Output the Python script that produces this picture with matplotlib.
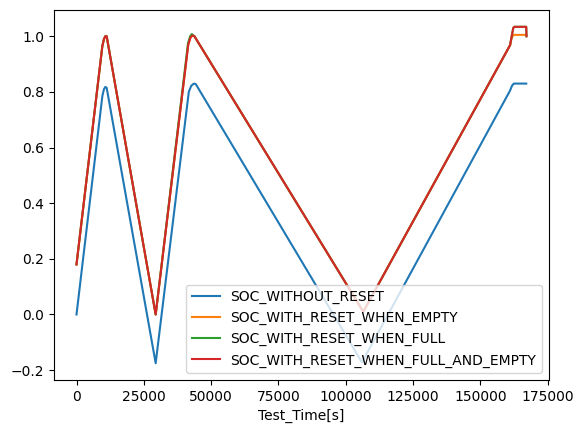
import matplotlib
matplotlib.use("Agg")
import matplotlib.pyplot as plt

# Breakpoints (time [s], state of charge)
t_without = [0, 9600, 10200, 10700, 11200, 29400, 41700, 42600, 43600, 44300,
             106000, 161000, 161700, 162400, 167000]
soc_without = [0.0, 0.785, 0.81, 0.818, 0.815, -0.175, 0.8, 0.822, 0.83, 0.828,
               -0.172, 0.805, 0.822, 0.83, 0.83]

t_empty = [0, 9600, 10200, 10700, 11200, 29400, 41500, 42300, 43000, 43800,
           106500, 161000, 161600, 162300, 167000]
soc_empty = [0.18, 0.965, 0.99, 1.0, 1.0, 0.0, 0.97, 0.995, 1.003, 1.0,
             0.01, 0.968, 0.995, 1.005, 1.005]

t_full = [0, 9600, 10200, 10700, 11200, 29400, 41400, 42200, 42800, 43800,
          106500, 161000, 161600, 162200, 162600, 167000, 167100]
soc_full = [0.18, 0.965, 0.99, 1.0, 1.0, 0.0, 0.975, 1.0, 1.008, 1.0,
            0.01, 0.968, 1.0, 1.03, 1.034, 1.034, 1.0]

t_full_empty = [0, 9600, 10200, 10700, 11200, 29400, 41500, 42300, 43000, 43800,
                106500, 161000, 161600, 162200, 162600, 167000, 167100]
soc_full_empty = [0.18, 0.965, 0.99, 1.0, 1.0, 0.0, 0.97, 0.995, 1.003, 1.0,
                  0.01, 0.968, 1.0, 1.03, 1.034, 1.034, 1.0]

labels = ["SOC_WITHOUT_RESET", "SOC_WITH_RESET_WHEN_EMPTY",
          "SOC_WITH_RESET_WHEN_FULL", "SOC_WITH_RESET_WHEN_FULL_AND_EMPTY"]

fig = plt.figure(figsize=(5.84, 4.33), dpi=100)
ax = fig.add_axes([54 / 584, 1 - 380 / 433, 495 / 584, 370 / 433])

ax.plot(t_without, soc_without, label=labels[0])
ax.plot(t_empty, soc_empty, label=labels[1])
ax.plot(t_full, soc_full, label=labels[2])
ax.plot(t_full_empty, soc_full_empty, label=labels[3])

ax.set_xlabel("Test_Time[s]")
ax.legend(loc="lower right")

fig.savefig("out.png", dpi=100)
